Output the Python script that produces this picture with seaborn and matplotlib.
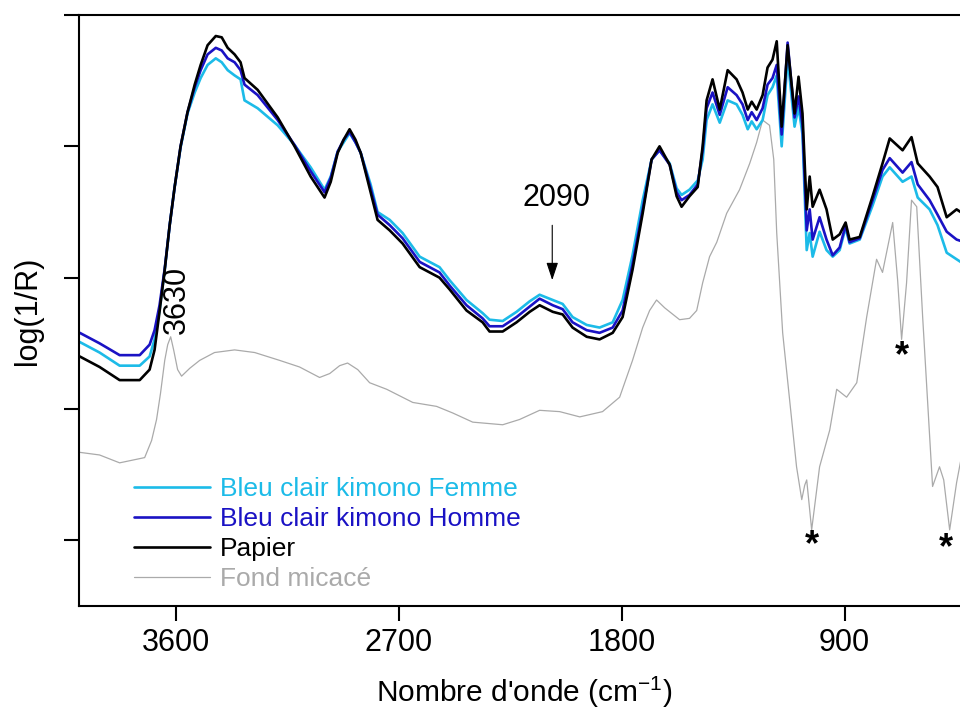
import matplotlib
matplotlib.use("Agg")
import matplotlib.pyplot as plt
import seaborn as sns
import pandas as pd

# wavenumber grid (cm-1) shared by the three sample spectra
wn = [3987, 3907, 3826, 3745, 3705, 3685, 3665, 3644, 3624, 3604,
      3580, 3552, 3523, 3499, 3471, 3438, 3414, 3390, 3362, 3338,
      3322, 3269, 3188, 3120, 3055, 2999, 2974, 2946, 2922, 2898,
      2874, 2853, 2813, 2785, 2736, 2684, 2615, 2535, 2494, 2426,
      2361, 2333, 2280, 2224, 2171, 2131, 2078, 2038, 1998, 1941,
      1889, 1836, 1796, 1756, 1715, 1679, 1647, 1606, 1578, 1558,
      1526, 1493, 1473, 1457, 1433, 1404, 1372, 1336, 1312, 1291,
      1275, 1255, 1231, 1211, 1191, 1174, 1154, 1130, 1102, 1086,
      1070, 1053, 1041, 1029, 1001, 973, 948, 920, 896, 880,
      839, 787, 747, 718, 666, 630, 605, 557, 525, 488,
      448, 416]

papier = [1.90, 1.82, 1.72, 1.72, 1.80, 1.95, 2.24, 2.56, 2.90, 3.19,
          3.50, 3.76, 3.97, 4.12, 4.27, 4.34, 4.33, 4.25, 4.20, 4.14,
          4.02, 3.93, 3.72, 3.50, 3.27, 3.11, 3.23, 3.45, 3.55, 3.63,
          3.55, 3.45, 3.15, 2.94, 2.86, 2.76, 2.58, 2.50, 2.41, 2.25,
          2.16, 2.09, 2.09, 2.16, 2.24, 2.29, 2.24, 2.22, 2.12, 2.05,
          2.03, 2.08, 2.20, 2.56, 2.99, 3.40, 3.50, 3.36, 3.12, 3.04,
          3.12, 3.19, 3.50, 3.85, 4.01, 3.78, 4.08, 4.01, 3.91, 3.78,
          3.84, 3.78, 3.89, 4.10, 4.16, 4.30, 3.65, 4.27, 3.75, 4.03,
          3.75, 3.02, 3.27, 3.04, 3.17, 3.02, 2.79, 2.83, 2.92, 2.79,
          2.81, 3.12, 3.37, 3.56, 3.47, 3.57, 3.37, 3.27, 3.19, 2.96,
          3.02, 2.98]

homme = [2.08, 2.00, 1.91, 1.91, 1.99, 2.10, 2.29, 2.57, 2.90, 3.19,
         3.50, 3.76, 3.95, 4.08, 4.20, 4.25, 4.23, 4.17, 4.14, 4.08,
         3.97, 3.89, 3.70, 3.51, 3.31, 3.15, 3.26, 3.46, 3.55, 3.61,
         3.53, 3.45, 3.18, 2.98, 2.90, 2.80, 2.62, 2.54, 2.44, 2.29,
         2.19, 2.13, 2.13, 2.20, 2.28, 2.34, 2.29, 2.26, 2.16, 2.10,
         2.08, 2.12, 2.25, 2.60, 3.02, 3.40, 3.47, 3.36, 3.15, 3.09,
         3.13, 3.21, 3.47, 3.79, 3.91, 3.74, 3.95, 3.89, 3.82, 3.70,
         3.76, 3.70, 3.79, 3.97, 4.02, 4.12, 3.59, 4.29, 3.72, 3.88,
         3.66, 2.86, 3.02, 2.79, 2.96, 2.79, 2.67, 2.73, 2.90, 2.77,
         2.80, 3.09, 3.32, 3.41, 3.30, 3.38, 3.21, 3.09, 2.98, 2.85,
         2.79, 2.77]

femme = [2.01, 1.93, 1.83, 1.83, 1.90, 2.03, 2.25, 2.56, 2.90, 3.19,
         3.49, 3.75, 3.91, 4.02, 4.12, 4.17, 4.14, 4.08, 4.04, 4.01,
         3.85, 3.79, 3.66, 3.51, 3.34, 3.17, 3.27, 3.46, 3.53, 3.60,
         3.53, 3.45, 3.21, 3.00, 2.94, 2.84, 2.66, 2.58, 2.48, 2.33,
         2.23, 2.18, 2.17, 2.24, 2.32, 2.37, 2.33, 2.30, 2.20, 2.14,
         2.12, 2.16, 2.33, 2.67, 3.09, 3.40, 3.47, 3.37, 3.18, 3.13,
         3.17, 3.24, 3.40, 3.70, 3.82, 3.68, 3.85, 3.82, 3.74, 3.63,
         3.69, 3.63, 3.70, 3.89, 3.95, 4.04, 3.50, 4.18, 3.65, 3.80,
         3.59, 2.71, 2.84, 2.66, 2.85, 2.71, 2.66, 2.71, 2.88, 2.76,
         2.79, 3.05, 3.27, 3.34, 3.23, 3.27, 3.11, 3.02, 2.90, 2.69,
         2.64, 2.60]

# mica background, own wavenumber grid
wn_fond = [3987, 3907, 3826, 3725, 3697, 3677, 3661, 3644, 3632, 3620,
           3608, 3592, 3576, 3543, 3503, 3443, 3362, 3281, 3180, 3100,
           3019, 2978, 2938, 2906, 2865, 2817, 2748, 2643, 2547, 2482,
           2401, 2280, 2212, 2131, 2050, 1969, 1877, 1808, 1756, 1715,
           1687, 1659, 1626, 1566, 1526, 1497, 1473, 1445, 1416, 1376,
           1324, 1283, 1255, 1231, 1203, 1186, 1174, 1150, 1122, 1094,
           1073, 1061, 1053, 1033, 1001, 960, 932, 892, 851, 811,
           771, 747, 706, 686, 670, 650, 630, 609, 585, 545,
           517, 500, 476, 448, 416]
fond = [1.17, 1.15, 1.09, 1.13, 1.26, 1.42, 1.62, 1.87, 1.99, 2.05,
        1.95, 1.80, 1.75, 1.81, 1.87, 1.93, 1.95, 1.93, 1.87, 1.82,
        1.74, 1.77, 1.83, 1.85, 1.80, 1.70, 1.65, 1.55, 1.52, 1.47,
        1.40, 1.38, 1.42, 1.49, 1.48, 1.44, 1.48, 1.59, 1.87, 2.12,
        2.25, 2.33, 2.27, 2.18, 2.19, 2.25, 2.46, 2.66, 2.77, 2.99,
        3.17, 3.37, 3.53, 3.70, 3.66, 3.40, 2.84, 2.08, 1.57, 1.06,
        0.81, 0.92, 0.96, 0.58, 1.06, 1.34, 1.65, 1.59, 1.70, 2.20,
        2.64, 2.54, 2.92, 2.48, 2.03, 2.46, 3.09, 3.04, 2.20, 0.91,
        1.06, 0.96, 0.58, 0.94, 1.26]

x_ticks = [3600, 2700, 1800, 900]
y_ticks = [0.5, 1.5, 2.5, 3.5, 4.5]

# marked bands (asterisks) under the mica spectrum
star_wn = [1033, 670, 492]
star_y = [0.46, 1.90, 0.44]

sns.set_theme(style='ticks')
plt.rcParams['font.family'] = ['Liberation Sans', 'DejaVu Sans']
plt.rcParams['text.color'] = 'black'
plt.rcParams['axes.labelcolor'] = 'black'
plt.rcParams['mathtext.default'] = 'regular'

fig = plt.figure(figsize=(9.6, 7.09), dpi=100)
ax = fig.add_axes([79 / 960, 103 / 709, 889.5 / 960, 591 / 709])

df = pd.DataFrame({'wn': wn, 'Papier': papier, 'Homme': homme, 'Femme': femme})
df_fond = pd.DataFrame({'wn': wn_fond, 'fond': fond})

sns.lineplot(data=df_fond, x='wn', y='fond', ax=ax, color='#aaaaaa', lw=0.9,
             label='Fond micacé')
sns.lineplot(data=df, x='wn', y='Femme', ax=ax, color='#1cbbe8', lw=1.9,
             label='Bleu clair kimono Femme')
sns.lineplot(data=df, x='wn', y='Homme', ax=ax, color='#1a12c4', lw=1.9,
             label='Bleu clair kimono Homme')
sns.lineplot(data=df, x='wn', y='Papier', ax=ax, color='black', lw=1.9,
             label='Papier')

ax.set_xlim(3990, 400)
ax.set_ylim(0, 4.5)
ax.set_xticks(x_ticks)
ax.set_xticklabels([str(t) for t in x_ticks])
ax.set_yticks(y_ticks)
ax.tick_params(axis='both', direction='out', length=10.5, width=1.5,
               colors='black', labelsize=22)
ax.tick_params(axis='x', pad=5)
ax.tick_params(axis='y', labelleft=False)
for side in ['left', 'bottom', 'top']:
    ax.spines[side].set_linewidth(1.5)
    ax.spines[side].set_color('black')
ax.spines['right'].set_visible(False)
ax.grid(False)

ax.set_ylabel('log(1/R)', fontsize=22, color='black')
ax.yaxis.set_label_coords(-0.040, 0.5)
ax.set_xlabel("Nombre d'onde (cm$^{-1}$)", fontsize=21.5, color='black',
              va='baseline')
ax.xaxis.set_label_coords(0.5, -0.162)

# annotations
ax.text(3596, 2.33, '3630', rotation=90, fontsize=22, ha='center', va='center',
        color='black')
ax.text(2062, 3.11, '2090', fontsize=22, ha='center', va='center', color='black')
ax.annotate('', xy=(2080, 2.46), xytext=(2080, 2.92),
            arrowprops=dict(arrowstyle='-|>,head_length=0.9,head_width=0.3',
                            color='black', lw=0.8))
for sx, sy in zip(star_wn, star_y):
    ax.text(sx, sy, '*', fontsize=26, fontweight='bold', ha='center', va='center',
            color='black')

handles, labels = ax.get_legend_handles_labels()
order = ['Bleu clair kimono Femme', 'Bleu clair kimono Homme', 'Papier', 'Fond micacé']
hmap = dict(zip(labels, handles))
leg = ax.legend([hmap[k] for k in order], order, loc='upper left',
                bbox_to_anchor=(0.0617, 0.218), frameon=False, fontsize=19,
                borderpad=0, borderaxespad=0, handlelength=2.9,
                handletextpad=0.35, labelspacing=0.225, labelcolor='linecolor')

fig.savefig('out.png', dpi=100)
